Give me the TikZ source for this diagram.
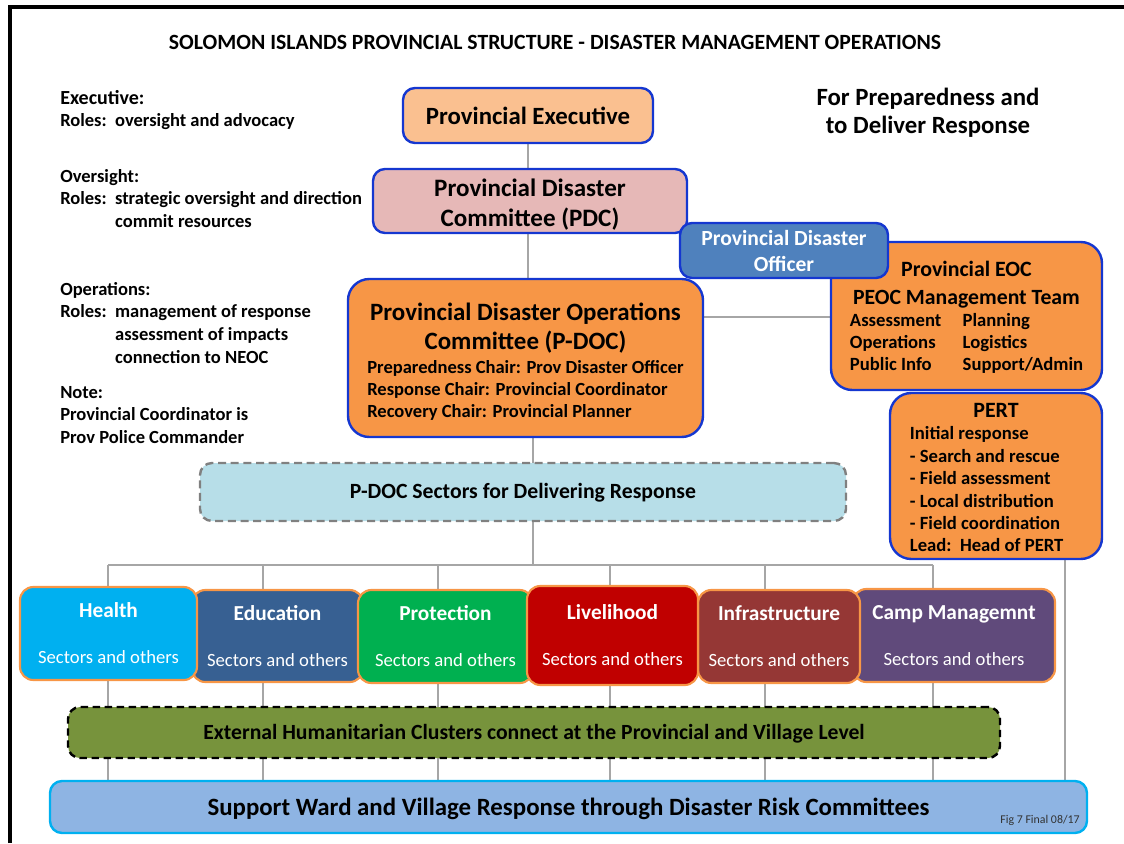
\documentclass[tikz,border=0pt]{standalone}
\usepackage{fontspec}
\setmainfont{Carlito}
\usetikzlibrary{positioning}
\pgfdeclarelayer{bg}
\pgfsetlayers{bg,main}
\definecolor{boxblue}{HTML}{1537D0}
\definecolor{execfill}{HTML}{FAC090}
\definecolor{pdcfill}{HTML}{E6B8B7}
\definecolor{officerfill}{HTML}{4F81BD}
\definecolor{opfill}{HTML}{F79646}
\definecolor{sectfill}{HTML}{B7DEE8}
\definecolor{dashgrey}{HTML}{808080}
\definecolor{linkgrey}{HTML}{A6A6A6}
\definecolor{healthfill}{HTML}{00B0F0}
\definecolor{edufill}{HTML}{376092}
\definecolor{protfill}{HTML}{00B050}
\definecolor{livefill}{HTML}{C00000}
\definecolor{infrafill}{HTML}{953735}
\definecolor{campfill}{HTML}{604A7B}
\definecolor{clusterfill}{HTML}{77933C}
\definecolor{supportfill}{HTML}{8EB4E3}

\begin{document}
\begin{tikzpicture}
[x=0.75pt,y=-0.75pt,
wh/.style 2 args = {minimum width=#1*0.75pt, minimum height=#2*0.75pt},
box/.style = {draw=boxblue, line width=1.8pt, rounded corners=9pt, inner sep=0pt, align=center, font=\bfseries},
sector/.style = {draw=opfill, line width=1.6pt, rounded corners=10pt, inner sep=0pt, align=center, text=white, font=\fontsize{14}{17}\selectfont},
link/.style = {draw=linkgrey, line width=2.2pt},
note/.style = {anchor=north west, inner sep=0pt, align=left, font=\bfseries\fontsize{13.9}{17}\selectfont},
]
\useasboundingbox (0,0) rectangle (1124,843);
\draw[line width=3pt] (10,843) -- (10,7) -- (1124,7);

\node (title) at (555,42)[font=\bfseries\fontsize{16.3}{19}\selectfont] {SOLOMON ISLANDS PROVINCIAL STRUCTURE - DISASTER MANAGEMENT OPERATIONS};
\node (prep) at (928,113)[align=center, font=\bfseries\fontsize{18.6}{21}\selectfont] {For Preparedness and\\to Deliver Response};

\node (execnote) at (60,90)[note] {{\fontsize{15}{17}\selectfont Executive:}\\Roles:\ \ oversight and advocacy};
\node (oversightnote) at (60,169)[note] {Oversight:\\Roles:\ \ strategic oversight and direction\\\phantom{Roles:\ \ }commit resources};
\node (opsnote) at (60,282)[note] {Operations:\\Roles:\ \ management of response\\\phantom{Roles:\ \ }assessment of impacts\\\phantom{Roles:\ \ }connection to NEOC};
\node (note) at (60,386)[note] {Note:\\Provincial Coordinator is\\Prov Police Commander};

\node (exec) at (528,115.5)[box, wh={250}{55}, fill=execfill, font=\bfseries\fontsize{18.6}{22}\selectfont] {Provincial Executive};
\node (pdc) at (530,201)[box, wh={314}{64}, fill=pdcfill, font=\bfseries\fontsize{18.8}{23}\selectfont] {\rule{0pt}{18.5pt}Provincial Disaster\\Committee (PDC)};
\node (pdoc) at (525.5,358)[box, wh={355}{158}, fill=opfill, rounded corners=16pt, font=\bfseries\fontsize{18.7}{22}\selectfont] {\rule{0pt}{21pt}Provincial Disaster Operations\\Committee (P-DOC)\\[-4.5pt]
  \fontsize{13.9}{16.5}\selectfont\begin{tabular}[t]{@{}l@{}}Preparedness Chair: Prov Disaster Officer\\Response Chair: Provincial Coordinator\\Recovery Chair: Provincial Planner\end{tabular}};
\node (eoc) at (966.5,316)[box, wh={271}{148}, fill=opfill, rounded corners=16pt, font=\bfseries\fontsize{16.4}{21}\selectfont] {\rule{0pt}{15.5pt}Provincial EOC\\{\fontsize{16.3}{21}\selectfont PEOC Management Team}\\[-4pt]
  \fontsize{14}{16.2}\selectfont\begin{tabular}[t]{@{}l@{\hspace{16pt}}l@{}}Assessment & Planning\\Operations & Logistics\\Public Info & Support/Admin\end{tabular}};
\node (officer) at (784,250.5)[box, wh={208}{55}, fill=officerfill, text=white, font=\bfseries\fontsize{16.2}{19.5}\selectfont] {Provincial Disaster\\Officer};
\node (pert) at (996,476)[box, wh={212}{166}, fill=opfill, rounded corners=16pt, font=\bfseries\fontsize{16.4}{18}\selectfont] {\rule{0pt}{18pt}PERT\\[-1pt]
  \fontsize{14}{16.8}\selectfont\begin{tabular}[t]{@{}l@{}}Initial response\\- Search and rescue\\- Field assessment\\- Local distribution\\- Field coordination\\Lead:\ \ Head of PERT\end{tabular}\rule{14pt}{0pt}};
\node (sectors) at (523,492)[box, wh={646}{58}, fill=sectfill, draw=dashgrey, dash pattern=on 6pt off 3.5pt, font=\bfseries\fontsize{16.3}{19}\selectfont] {\rule{0pt}{13pt}P-DOC Sectors for Delivering Response};

\node (education) at (277.5,636)[sector, wh={171}{92}, fill=edufill] {{\bfseries\fontsize{16}{17}\selectfont Education}\\[17.5pt]Sectors and others};
\node (health) at (108.5,633.5)[sector, wh={177}{93}, fill=healthfill] {{\bfseries\fontsize{16}{17}\selectfont Health}\\[17.5pt]Sectors and others};
\node (protection) at (445.5,636.5)[sector, wh={175}{93}, fill=protfill] {{\bfseries\fontsize{16}{17}\selectfont Protection}\\[17.5pt]Sectors and others};
\node (camp) at (954,635.5)[sector, wh={202}{93}, fill=campfill] {{\bfseries\fontsize{16}{17}\selectfont Camp Managemnt}\\[17.5pt]Sectors and others};
\node (infra) at (779,636.5)[sector, wh={162}{93}, fill=infrafill] {{\bfseries\fontsize{16}{17}\selectfont Infrastructure}\\[17.5pt]Sectors and others};
\node (livelihood) at (612.5,635.5)[sector, wh={171}{99}, fill=livefill] {{\bfseries\fontsize{16}{17}\selectfont Livelihood}\\[17.5pt]Sectors and others};

\node (cluster) at (534,732.5)[box, wh={932}{51}, fill=clusterfill, draw=black, dash pattern=on 5.5pt off 3.5pt, font=\bfseries\fontsize{16.25}{19}\selectfont] {\rule{0pt}{13pt}External Humanitarian Clusters connect at the Provincial and Village Level};
\node (support) at (568.5,807)[box, wh={1037}{52}, fill=supportfill, draw=healthfill, font=\bfseries\fontsize{18.65}{22}\selectfont] {\rule{0pt}{15.5pt}Support Ward and Village Response through Disaster Risk Committees};
\node (fig) at (1040,820)[font=\fontsize{8.9}{10}\selectfont, text=black!80] {Fig 7 Final 08/17};

\coordinate (bus) at (533,565);
\begin{pgfonlayer}{bg}
\draw[link] (exec.south) -- (exec.south |- pdoc.north);
\draw[link] (pdoc.south -| bus) -- (bus);
\draw[link] (pdoc.east |- 0,317) -- (eoc.west |- 0,317);
\draw[link] (108,0 |- bus) -- (933,0 |- bus);
\foreach \x in {108,263,438,610,765,933}
  \draw[link] (\x,0 |- bus) -- (\x,0 |- support.north);
\draw[link] (1065,0 |- pert.south) -- (1065,0 |- support.north);
\end{pgfonlayer}
\end{tikzpicture}
\end{document}
